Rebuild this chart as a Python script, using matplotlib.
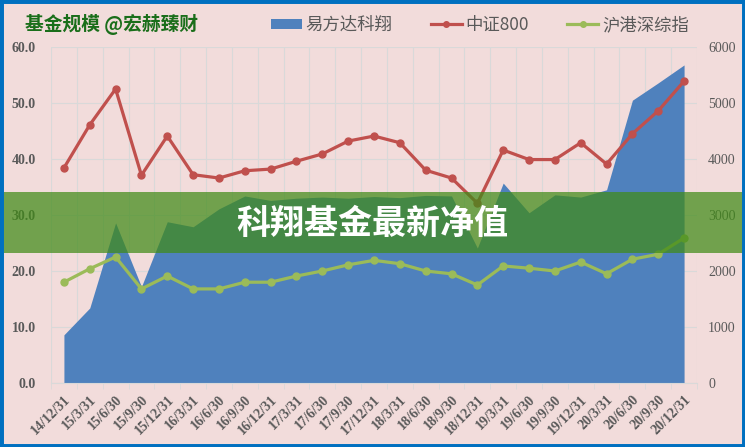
import matplotlib
matplotlib.use("Agg")
import matplotlib.pyplot as plt
from matplotlib.lines import Line2D
from matplotlib.patches import Patch, Rectangle
import numpy as np

# quarterly report dates
dates = ["14/12/31", "15/3/31", "15/6/30", "15/9/30", "15/12/31",
         "16/3/31", "16/6/30", "16/9/30", "16/12/31", "17/3/31",
         "17/6/30", "17/9/30", "17/12/31", "18/3/31", "18/6/30",
         "18/9/30", "18/12/31", "19/3/31", "19/6/30", "19/9/30",
         "19/12/31", "20/3/31", "20/6/30", "20/9/30", "20/12/31"]

# fund size (left axis)
fund_size = [8.6, 13.4, 28.6, 17.2, 28.8, 27.9, 31.1, 33.4, 32.6, 33.0,
             33.2, 33.0, 33.3, 33.1, 33.5, 33.4, 24.1, 35.7, 30.4, 33.6,
             33.2, 34.5, 50.5, 53.6, 56.8]

# CSI 800 index (right axis)
csi800 = [3840, 4610, 5250, 3710, 4410, 3720, 3660, 3790, 3820, 3960,
          4090, 4320, 4410, 4290, 3800, 3660, 3210, 4160, 3990, 3990,
          4290, 3910, 4450, 4860, 5390]

# HK-SH-SZ composite index (right axis)
hsz = [1800, 2040, 2250, 1680, 1910, 1680, 1680, 1800, 1800, 1910,
       2000, 2110, 2190, 2130, 2000, 1950, 1750, 2090, 2050, 2000,
       2160, 1950, 2210, 2300, 2590]

plt.rcParams['font.family'] = ['Noto Sans CJK SC', 'DejaVu Sans']

bg = '#f2dcdb'
grey = '#595959'
blue = '#4f81bd'
red = '#c0504d'
green = '#9bbb59'

fig = plt.figure(figsize=(7.45, 4.47), dpi=100, facecolor=bg)
ax = fig.add_axes([51 / 745, 1 - 383 / 447, 646 / 745, 336 / 447])
ax.set_facecolor(bg)
ax2 = ax.twinx()

x = np.arange(len(dates))

ax.fill_between(x, 0, fund_size, color=blue, linewidth=0, zorder=2)
ax.set_xlim(-0.5, len(dates) - 0.5)
ax.set_ylim(0, 60)
ax.set_yticks(np.arange(0, 61, 10))
ax.set_yticklabels([f"{v:.1f}" for v in np.arange(0, 61, 10)],
                   family='Liberation Serif', fontweight='bold',
                   fontsize=10, color=grey)
ax.set_xticks(x)
ax.set_xticklabels(dates, rotation=45, ha='right', rotation_mode='anchor',
                   family='Liberation Serif', fontweight='bold',
                   fontsize=10, color=grey)
ax.set_xticks(np.arange(-0.5, len(dates)), minor=True)
ax.tick_params(axis='x', which='major', length=0, pad=7)
ax.tick_params(axis='x', which='minor', length=4, color='#d9d9d9')
ax.tick_params(axis='y', length=0, pad=11)
ax.grid(True, axis='y', color='#d9d9d9', linewidth=0.8, zorder=0)
ax.grid(True, axis='x', which='minor', color='#d9d9d9', linewidth=0.8, zorder=0)
ax.set_axisbelow(True)
for s in ax.spines.values():
    s.set_visible(False)
ax.spines['bottom'].set_visible(True)
ax.spines['bottom'].set_color('#d9d9d9')

ax2.plot(x, csi800, color=red, linewidth=2.3, marker='o', markersize=5, zorder=3)
ax2.plot(x, hsz, color=green, linewidth=2.3, marker='o', markersize=5, zorder=3)
ax2.set_ylim(0, 6000)
ax2.set_yticks(np.arange(0, 6001, 1000))
ax2.set_yticklabels([str(v) for v in range(0, 6001, 1000)],
                    family='Liberation Serif', fontsize=10, color=grey)
ax2.tick_params(axis='y', length=0, pad=8)
for s in ax2.spines.values():
    s.set_visible(False)

# chart title
fig.text(25 / 745, 1 - 24 / 447, "基金规模 @宏赫臻财", fontsize=13.5,
         fontweight='bold', color='#1a6e1a', va='center', ha='left')

# legend
handles = [Patch(facecolor=blue, edgecolor='none'),
           Line2D([], [], color=red, linewidth=2.3, marker='o', markersize=4),
           Line2D([], [], color=green, linewidth=2.3, marker='o', markersize=4)]
leg = fig.legend(handles, ["易方达科翔", "中证800", "沪港深综指"], ncol=3,
                 loc='center left', bbox_to_anchor=(264 / 745, 1 - 25 / 447),
                 frameon=False, fontsize=12.5, handlelength=1.8, handleheight=0.5,
                 handletextpad=0.2, columnspacing=2.2, borderaxespad=0)
for t in leg.get_texts():
    t.set_color(grey)

# green banner with headline
fig.patches.append(Rectangle((0, 1 - 253 / 447), 1, 61 / 447,
                             transform=fig.transFigure, facecolor='#408b17',
                             alpha=0.72, edgecolor='none', zorder=5))
fig.text(0.5, 1 - 223 / 447, "科翔基金最新净值", fontsize=24.5, fontweight='black',
         color='white', ha='center', va='center', zorder=6)

# blue frame
fig.patches.append(Rectangle((0, 0), 1, 1, transform=fig.transFigure,
                             facecolor='none', edgecolor='#0070c0',
                             linewidth=5, zorder=7))

fig.savefig("out.png", dpi=100, facecolor=bg)
